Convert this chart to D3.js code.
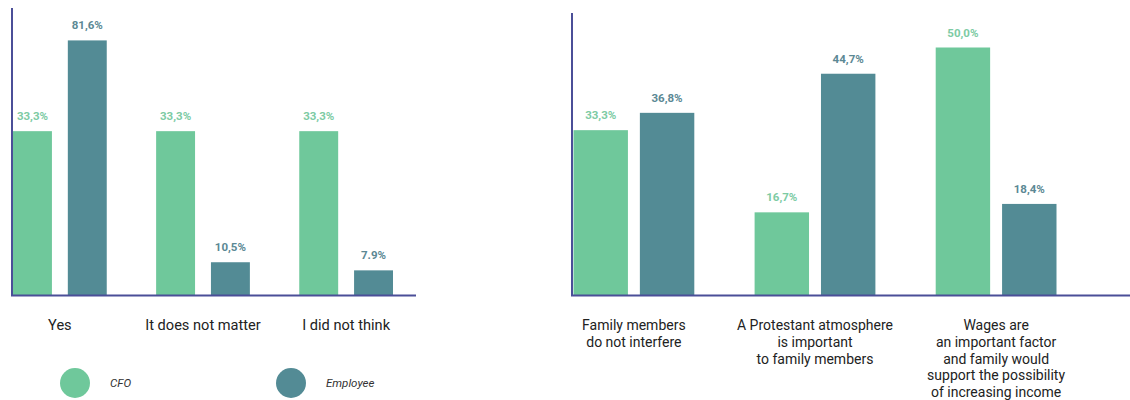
<!DOCTYPE html>
<html>
<head>
<meta charset="utf-8">
<script src="https://cdn.jsdelivr.net/npm/d3@7"></script>
<style>
  html, body { margin: 0; padding: 0; background: #ffffff; }
  svg { display: block; font-family: Roboto, "Open Sans", sans-serif; }
</style>
</head>
<body>
<svg id="chart" width="1130" height="400"></svg>
<script>
// ---- data ----
const series = ["CFO", "Employee"];

const leftCategories = ["Yes", "It does not matter", "I did not think"];
const leftCFO = [33.3, 33.3, 33.3];
const leftEmployee = [81.6, 10.5, 7.9];
const leftCFOLabels = ["33,3%", "33,3%", "33,3%"];
const leftEmployeeLabels = ["81,6%", "10,5%", "7.9%"];

const rightCategories = [
  ["Family members", "do not interfere"],
  ["A Protestant atmosphere", "is important", "to family members"],
  ["Wages are", "an important factor", "and family would", "support the possibility", "of increasing income"]
];
const rightCFO = [33.3, 16.7, 50.0];
const rightEmployee = [36.8, 44.7, 18.4];
const rightCFOLabels = ["33,3%", "16,7%", "50,0%"];
const rightEmployeeLabels = ["36,8%", "44,7%", "18,4%"];

// ---- styles ----
const colors = { CFO: "#6fc89b", Employee: "#538b95" };
const labelColors = { CFO: "#7dcba4", Employee: "#5b8894" };
const axisColor = "#4b4f98";

const svg = d3.select("#chart");
const baseY = 295;

function panel(opts) {
  const g = svg.append("g");
  const cats = opts.categories.map((c, i) => "c" + i);
  const x0 = d3.scaleBand().domain(cats).range(opts.xRange)
    .paddingInner(opts.padGroup).paddingOuter(0).align(0);
  const x1 = d3.scaleBand().domain(series).range([0, x0.bandwidth()])
    .paddingInner(opts.padBar).paddingOuter(0);

  const rows = cats.map((c, i) => ({
    key: c,
    vals: [
      { s: "CFO", v: opts.cfo[i], label: opts.cfoLabels[i] },
      { s: "Employee", v: opts.emp[i], label: opts.empLabels[i] }
    ]
  }));

  const grp = g.selectAll("g.grp").data(rows).join("g")
    .attr("transform", d => `translate(${x0(d.key)},0)`);

  grp.selectAll("rect").data(d => d.vals).join("rect")
    .attr("x", d => x1(d.s))
    .attr("width", x1.bandwidth())
    .attr("y", d => opts.y[d.s](d.v))
    .attr("height", d => baseY - opts.y[d.s](d.v))
    .attr("fill", d => colors[d.s]);

  grp.selectAll("text.val").data(d => d.vals).join("text")
    .attr("class", "val")
    .attr("x", d => x1(d.s) + x1.bandwidth() / 2)
    .attr("y", d => opts.y[d.s](d.v) - 11)
    .attr("text-anchor", "middle")
    .attr("font-size", 11.5)
    .attr("font-weight", 700)
    .attr("fill", d => labelColors[d.s])
    .text(d => d.label);

  // axes
  const yAxis = d3.axisLeft(opts.y.CFO).ticks(0).tickSize(0).tickFormat("");
  g.append("g").attr("transform", `translate(${opts.axisX},0)`).call(yAxis)
    .call(a => a.select(".domain").attr("stroke", axisColor).attr("stroke-width", 2)
      .attr("d", `M0,${opts.axisTop}V${baseY + 1}`));
  g.append("line")
    .attr("x1", opts.axisX - 1).attr("x2", opts.axisEnd)
    .attr("y1", baseY + 0.5).attr("y2", baseY + 0.5)
    .attr("stroke", axisColor).attr("stroke-width", 2);

  // category labels
  const lab = g.selectAll("text.cat").data(rows.map((r, i) => ({ key: r.key, lines: [].concat(opts.categories[i]) })))
    .join("text").attr("class", "cat")
    .attr("x", d => x0(d.key) + x0.bandwidth() / 2)
    .attr("y", 330)
    .attr("text-anchor", "middle")
    .attr("font-size", opts.catSize)
    .attr("fill", "#222");
  lab.selectAll("tspan").data(d => d.lines.map(l => ({ l, x: x0(d.key) + x0.bandwidth() / 2 }))).join("tspan")
    .attr("x", d => d.x)
    .attr("dy", (d, i) => i === 0 ? 0 : 16.8)
    .text(d => d.l);
}

// left panel: scales per series (as drawn in the source)
panel({
  categories: leftCategories,
  cfo: leftCFO, emp: leftEmployee,
  cfoLabels: leftCFOLabels, empLabels: leftEmployeeLabels,
  xRange: [13, 393],
  padGroup: 0.345,
  padBar: 0.29,
  y: {
    CFO: d3.scaleLinear().domain([0, 100]).range([baseY, baseY - 492]),
    Employee: d3.scaleLinear().domain([0, 100]).range([baseY, baseY - 312])
  },
  axisX: 12, axisTop: 8, axisEnd: 416, catSize: 14.6
});

const yRight = d3.scaleLinear().domain([0, 50]).range([baseY, baseY - 247.5]);
panel({
  categories: rightCategories,
  cfo: rightCFO, emp: rightEmployee,
  cfoLabels: rightCFOLabels, empLabels: rightEmployeeLabels,
  xRange: [573.5, 1056.5],
  padGroup: 0.333,
  padBar: 0.18,
  y: { CFO: yRight, Employee: yRight },
  axisX: 572, axisTop: 13, axisEnd: 1130, catSize: 14
});

// legend
const legend = svg.append("g").selectAll("g").data(series).join("g")
  .attr("transform", (d, i) => `translate(${[75, 291][i]},383)`);
legend.append("circle").attr("r", 15).attr("fill", d => colors[d]);
legend.append("text").attr("x", 35).attr("dy", "0.35em")
  .attr("font-size", 11.5).attr("font-style", "italic").attr("fill", "#333")
  .text(d => d);
</script>
</body>
</html>
